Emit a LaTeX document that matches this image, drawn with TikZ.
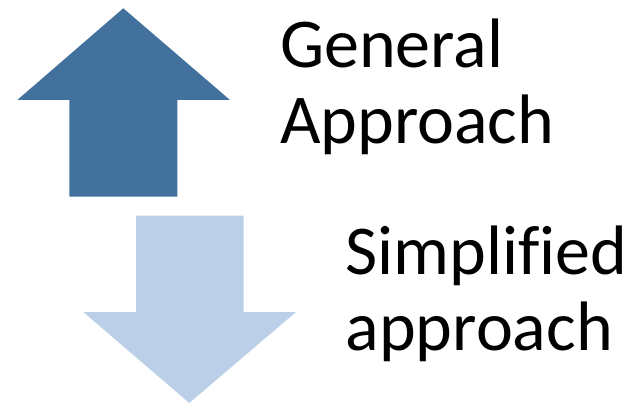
\documentclass[tikz,border=0pt]{standalone}
\usepackage{fontspec}
\setmainfont[Ligatures=NoCommon]{Carlito}
\definecolor{updark}{HTML}{41719C}
\definecolor{downlight}{HTML}{BBCFE8}
\begin{document}
\begin{tikzpicture}[x=1pt,y=1pt,
  lbl/.style={anchor=base west,inner sep=0pt,align=left,font=\fontsize{70}{76}\selectfont}]
\useasboundingbox (0,0) rectangle (628,404);
\fill[updark] (123.3,395.7) -- (230,304) -- (177.3,304) -- (177.3,207.3) -- (69.3,207.3) -- (69.3,304) -- (17.3,304) -- cycle;
\fill[downlight] (136,188.3) -- (243.7,188.3) -- (243.7,92) -- (296,92) -- (189.3,1) -- (83.3,92) -- (136,92) -- cycle;
\node[lbl] (gen) at (280,260.7) {General\\Approach};
\node[lbl] (simp) at (345.5,54) {Simplified\\approach};
\end{tikzpicture}
\end{document}
